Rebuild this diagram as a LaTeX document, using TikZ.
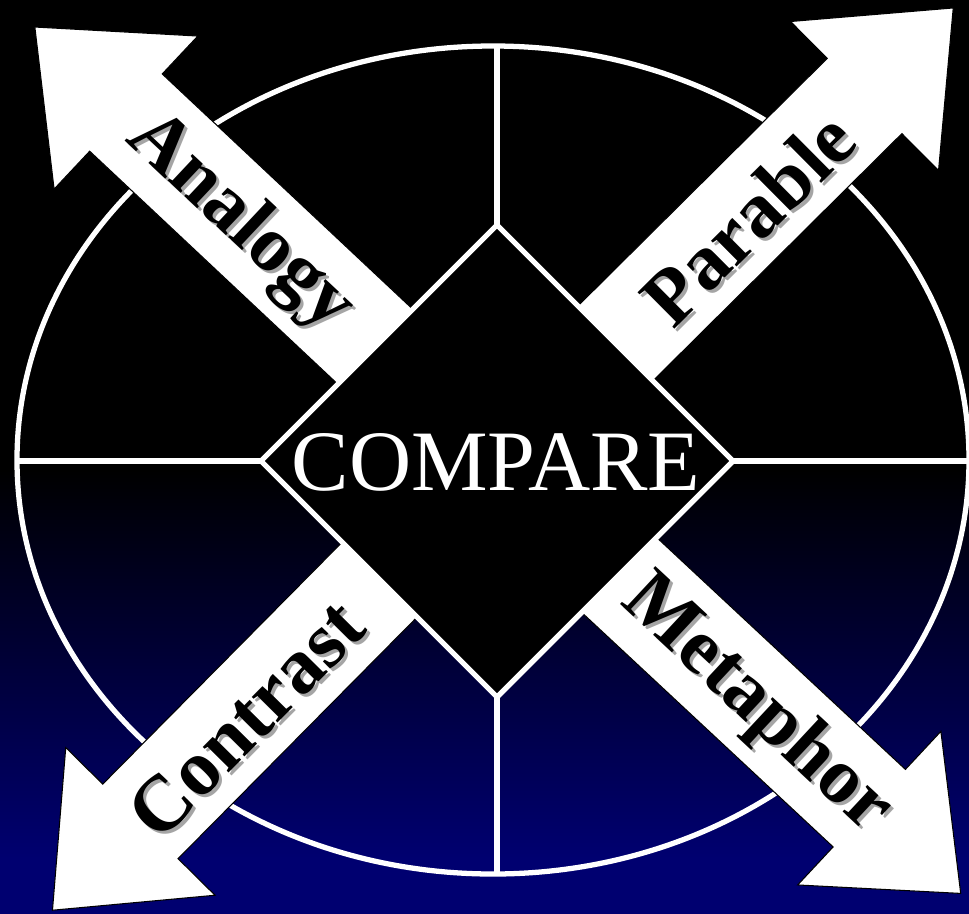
\documentclass[tikz,border=0pt]{standalone}
\usepackage{fontspec}
\setmainfont{Liberation Serif}
\definecolor{navyc}{RGB}{0,0,112}
\definecolor{shadowgray}{RGB}{165,165,165}
\pgfdeclareverticalshading{bgshade}{100bp}{color(0bp)=(navyc); color(25bp)=(navyc); color(28bp)=(navyc); color(49.3bp)=(black); color(75bp)=(black); color(100bp)=(black)}
\tikzset{
  wline/.style={white, line width=3pt},
  arrowbox/.style={fill=white, draw=black, line width=0.6pt, line join=miter},
  wordtxt/.style={text=black, font=\fontsize{45}{54}\selectfont\bfseries, inner sep=0pt},
  wordshadow/.style={text=shadowgray, font=\fontsize{45}{54}\selectfont\bfseries, inner sep=0pt},
}
\newcommand\blockarrow[2]{%
  \begin{scope}[shift={(c)}, rotate=#1]
    \draw[arrowbox] (0,-53) -- ({#2-125},-53) -- ({#2-125},-105) -- (#2,0)
      -- ({#2-125},105) -- ({#2-125},53) -- (0,53) -- cycle;
  \end{scope}}
\begin{document}
\begin{tikzpicture}[x=0.02cm, y=-0.02cm]
  \useasboundingbox (0,0) rectangle (969,913);
  \shade[shading=bgshade] (0,0) rectangle (969,913);
  % key points
  \coordinate (c) at (497,461);
  \coordinate (ec) at (493,460);
  \coordinate (dt) at (497,225);
  \coordinate (db) at (497,697);
  \coordinate (dl) at (261,461);
  \coordinate (dr) at (733,461);
  \coordinate (et) at (497,46);
  \coordinate (eb) at (497,874);
  \coordinate (el) at (17,461);
  \coordinate (er) at (969,461);
  % ellipse and dividing lines
  \draw[wline] (ec) ellipse [x radius=476, y radius=414];
  \draw[wline] (et) -- (dt);
  \draw[wline] (db) -- (eb);
  \draw[wline] (el) -- (dl);
  \draw[wline] (dr) -- (er);
  % arrows
  \blockarrow{136.8}{634}
  \blockarrow{44.8}{643}
  \blockarrow{225.3}{632}
  \blockarrow{-43.0}{634}
  % centre diamond
  \draw[wline, fill=black, line join=miter] (dt) -- (dr) -- (db) -- (dl) -- cycle;
  \node[white, font=\fontsize{49}{58}\selectfont, inner sep=0pt, anchor=base] (compare) at (496,490) {COMPARE};
  % labels with shadows
  \node[wordshadow, rotate=-43.2] (analogy-s) at (243,226) {Analogy};
  \node[wordtxt, rotate=-43.2] (analogy) at (240,223) {Analogy};
  \node[wordshadow, rotate=44.8] (parable-s) at (751,221) {Parable};
  \node[wordtxt, rotate=44.8] (parable) at (748,218) {Parable};
  \node[wordshadow, rotate=45.3] (contrast-s) at (249,722) {Contrast};
  \node[wordtxt, rotate=45.3] (contrast) at (246,719) {Contrast};
  \node[wordshadow, rotate=-43.0] (metaphor-s) at (759,708) {Metaphor};
  \node[wordtxt, rotate=-43.0] (metaphor) at (756,705) {Metaphor};
\end{tikzpicture}
\end{document}
